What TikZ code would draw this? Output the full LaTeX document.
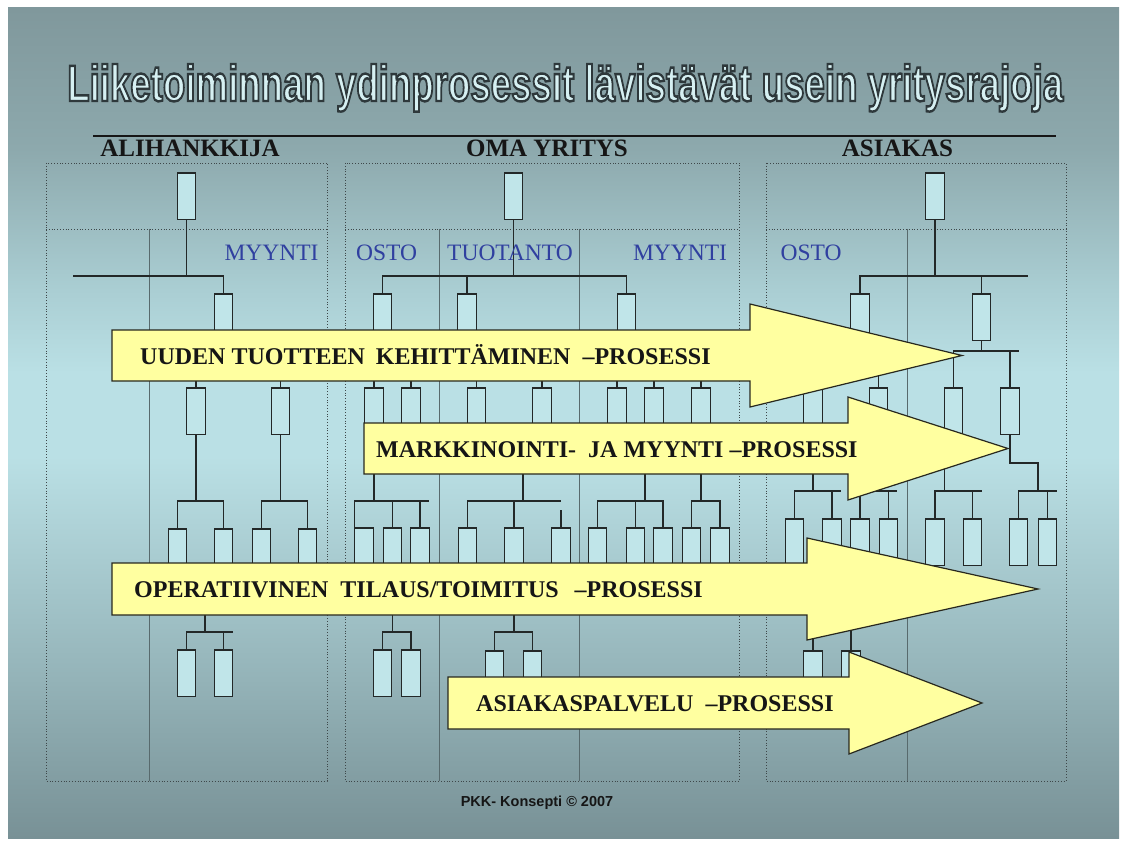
\documentclass[tikz,border=0pt]{standalone}
\usepackage{fontspec}
\usepackage{graphicx}
\setmainfont{Liberation Serif}
\newfontfamily\headsans{Liberation Sans}
\usetikzlibrary{calc}

\definecolor{bgtop}{RGB}{128,152,156}
\definecolor{bgupper}{RGB}{141,169,173}
\definecolor{bglight}{RGB}{170,206,211}
\definecolor{bgmid}{RGB}{186,224,229}
\definecolor{bglower}{RGB}{152,184,189}
\definecolor{bgbot}{RGB}{120,145,150}
\definecolor{boxfill}{RGB}{192,229,233}
\definecolor{boxedge}{RGB}{35,40,40}
\definecolor{framecol}{RGB}{62,72,74}
\definecolor{dividecol}{RGB}{88,106,109}
\definecolor{arrowfill}{RGB}{255,255,160}
\definecolor{arrowedge}{RGB}{40,40,30}
\definecolor{unitblue}{RGB}{48,64,160}
\definecolor{titlefill}{RGB}{214,240,242}
\definecolor{ink}{RGB}{22,22,22}

% slide background: grey-teal at top and bottom, light cyan in the middle
% (TikZ maps the 25bp--75bp band of a shading onto the filled area)
\pgfdeclareverticalshading{slidebg}{100bp}{%
  color(0bp)=(bgbot); color(25bp)=(bgbot); color(36bp)=(bglower);
  color(48bp)=(bgmid); color(53bp)=(bgmid); color(58bp)=(bglight);
  color(66.5bp)=(bgupper); color(75bp)=(bgtop); color(100bp)=(bgtop)}

% outlined title: light fill, dark stroke (text render mode 2)
\newcommand\titlestroke{\special{pdf:literal direct 2 Tr 2.4 w 0.18 0.22 0.23 RG}}
\newcommand\titleplain{\special{pdf:literal direct 0 Tr}}
\newcommand\ttltext{\resizebox{996pt}{37pt}{\headsans\bfseries\fontsize{50}{50}\selectfont
  Liiketoiminnan ydinprosessit lävistävät usein yritysrajoja}}

\begin{document}
\begin{tikzpicture}[x=1pt,y=-1pt,
  obox/.style={draw=boxedge, fill=boxfill, line width=1.2pt, minimum width=18.5pt,
               minimum height=46.5pt, inner sep=0pt, outer sep=0pt, anchor=north},
  link/.style={draw=boxedge, line width=1.3pt},
  frame/.style={draw=framecol, line width=0.8pt, dotted},
  divider/.style={draw=dividecol, line width=0.7pt},
  procarrow/.style={fill=arrowfill, draw=arrowedge, line width=1.2pt, line join=miter},
  proclabel/.style={anchor=base west, inner sep=0pt, text=ink,
                    font=\fontsize{24}{24}\selectfont\bfseries},
  partylabel/.style={anchor=base, inner sep=0pt, text=ink,
                     font=\fontsize{25}{25}\selectfont\bfseries},
  unitlabel/.style={anchor=base, inner sep=0pt, text=unitblue,
                    font=\fontsize{23.5}{23.5}\selectfont},
  titletext/.style={anchor=base west, inner sep=0pt}
]
\useasboundingbox (0,0) rectangle (1127,845);
\fill[white] (0,0) rectangle (1127,845);
\shade[shading=slidebg] (8,8) rectangle (1119,838);

% ---------- title ----------
\node[titletext, text=titlefill] (title) at (67,101) {\titlestroke\ttltext\titleplain};

% ---------- header rule and party names ----------
\coordinate (ruleL) at (93,136);
\coordinate (ruleR) at (1056,136);
\draw[line width=1.3pt, draw=ink] (ruleL) -- (ruleR);
\node[partylabel] (sub)  at (190,157) {ALIHANKKIJA};
\node[partylabel] (own)  at (547,157) {OMA YRITYS};
\node[partylabel] (cust) at (897.5,157) {ASIAKAS};

% ---------- company frames ----------
\draw[frame] (46,163) rectangle (327,781);
\draw[frame] (46,229) -- (327,229);
\draw[divider] (149,229) -- (149,781);

\draw[frame] (345,163) rectangle (739,781);
\draw[frame] (345,229) -- (739,229);
\draw[divider] (439,229) -- (439,781);
\draw[divider] (579,229) -- (579,781);

\draw[frame] (766,163) rectangle (1066,781);
\draw[frame] (766,229) -- (1066,229);
\draw[divider] (907,229) -- (907,781);

% ---------- row levels ----------
\coordinate (y276) at (0,276);
\coordinate (y351) at (0,351);
\coordinate (y360) at (0,360);
\coordinate (y491) at (0,491);
\coordinate (y501) at (0,501);
\coordinate (y628) at (0,628);
\coordinate (y632) at (0,632);

% ---------- ALIHANKKIJA organisation ----------
\node[obox] (a0) at (186.5,173) {};
\node[obox] (a1) at (223.5,294) {};
\node[obox] (a2) at (196,388) {};
\node[obox] (a3) at (280.5,388) {};
\node[obox] (a4) at (177.5,529) {};
\node[obox] (a5) at (223.5,529) {};
\node[obox] (a6) at (261.5,529) {};
\node[obox] (a7) at (307.5,529) {};
\node[obox] (a8) at (186.5,650) {};
\node[obox] (a9) at (223.5,650) {};

\coordinate (aL) at (73,276);
\draw[link] (a0.south) -- (a0.south |- aL);
\draw[link] (aL) -| (a1.north);
\draw[link] (a1.south) -- (a1.south |- y360);
\draw[link] (a2.north) |- (a3.north |- y360) -- (a3.north);
\draw[link] (a2.south) -- (a2.south |- y501);
\draw[link] (a4.north) |- (a5.north |- y501) -- (a5.north);
\draw[link] (a3.south) -- (a3.south |- y501);
\draw[link] (a6.north) |- (a7.north |- y501) -- (a7.north);
\coordinate (aJ) at (205,600);
\coordinate (aR) at (233,632);
\draw[link] (aJ) -- (aJ |- aR);
\draw[link] (a8.north) |- (aR);
\draw[link] (a9.north) -- (a9.north |- aR);

% ---------- OMA YRITYS organisation ----------
\node[obox] (o0) at (513.5,173) {};
\node[obox] (o1) at (382.5,294) {};
\node[obox] (o2) at (467,294) {};
\node[obox] (o3) at (626.5,294) {};
\node[obox] (o4) at (374,388) {};
\node[obox] (o5) at (411,388) {};
\node[obox] (o6) at (476.5,388) {};
\node[obox] (o7) at (542,388) {};
\node[obox] (o8) at (617,388) {};
\node[obox] (o9) at (654,388) {};
\node[obox] (o10) at (701,388) {};
\node[obox] (o11) at (364,528) {};
\node[obox] (o12) at (392.5,528) {};
\node[obox] (o13) at (420,528) {};
\node[obox] (o14) at (467.5,528) {};
\node[obox] (o15) at (514,528) {};
\node[obox] (o16) at (561,528) {};
\node[obox] (o17) at (597.5,528) {};
\node[obox] (o18) at (635.5,528) {};
\node[obox] (o19) at (663,528) {};
\node[obox] (o20) at (691.5,528) {};
\node[obox] (o21) at (720,528) {};
\node[obox] (o22) at (382.5,650) {};
\node[obox] (o23) at (411,650) {};
\node[obox] (o24) at (494.5,651) {};
\node[obox] (o25) at (532.5,651) {};

\draw[link] (o0.south) -- (o0.south |- y276);
\draw[link] (o1.north) |- (o3.north |- y276) -- (o3.north);
\draw[link] (o2.north) -- (o2.north |- y276);
\draw[link] (o1.south) -- (o1.south |- y360);
\draw[link] (o4.north) |- (o5.north |- y360) -- (o5.north);
\draw[link] (o2.south) -- (o2.south |- y360);
\draw[link] (o6.north) |- (o7.north |- y360) -- (o7.north);
\draw[link] (o3.south) -- (o3.south |- y360);
\draw[link] (o8.north) |- (o10.north |- y360) -- (o10.north);
\draw[link] (o9.north) -- (o9.north |- y360);

\coordinate (oR1) at (429,501);
\draw[link] (o4.south) -- (o4.south |- oR1);
\draw[link] (o11.north west) |- (oR1);
\draw[link] (o12.north) -- (o12.north |- oR1);
\draw[link] (o13.north) -- (o13.north |- oR1);

\coordinate (oT1) at (523,450);
\coordinate (oT2) at (561,501);
\coordinate (oT3) at (561,510);
\draw[link] (oT1) -- (oT1 |- oT2);
\draw[link] (o14.north) |- (oT2);
\draw[link] (o15.north) -- (o15.north |- oT2);
\draw[link] (oT3) -- (o16.north);

\coordinate (oM1) at (645,450);
\draw[link] (oM1) -- (oM1 |- y501);
\draw[link] (o17.north) |- (o19.north |- y501) -- (o19.north);
\draw[link] (o18.north) -- (o18.north |- y501);
\draw[link] (o10.south) -- (o10.south |- y501);
\draw[link] (o20.north) |- (o21.north |- y501) -- (o21.north);

\draw[link] (o12.south) -- (o12.south |- y632);
\draw[link] (o22.north) |- (o23.north |- y632) -- (o23.north);
\draw[link] (o15.south) -- (o15.south |- y632);
\draw[link] (o24.north) |- (o25.north |- y632) -- (o25.north);

% ---------- ASIAKAS organisation ----------
\node[obox] (s0) at (935,173) {};
\node[obox] (s1) at (860,294) {};
\node[obox] (s2) at (981.5,294) {};
\node[obox] (s3) at (953.5,388) {};
\node[obox] (s4) at (1010,388) {};
\node[obox] (s5) at (813,388) {};
\node[obox] (s6) at (878.5,388) {};
\node[obox] (s7) at (935,519) {};
\node[obox] (s8) at (972.5,519) {};
\node[obox] (s9) at (1018.5,519) {};
\node[obox] (s10) at (1047.5,519) {};
\node[obox] (s11) at (794.5,519) {};
\node[obox] (s12) at (832,519) {};
\node[obox] (s13) at (860,519) {};
\node[obox] (s14) at (888.5,519) {};
\node[obox] (s15) at (813,651) {};
\node[obox] (s16) at (851,651) {};

\coordinate (sR0) at (1028,276);
\draw[link] (s0.south) -- (s0.south |- sR0);
\draw[link] (s1.north) |- (sR0);
\draw[link] (s2.north) -- (s2.north |- sR0);

\coordinate (sR1) at (1019,351);
\draw[link] (s2.south) -- (s2.south |- sR1);
\draw[link] (s3.north) |- (sR1);
\draw[link] (s4.north) -- (s4.north |- sR1);

\draw[link] (s1.south) -- (s1.south |- y351);
\draw[link] (s5.north) |- (s6.north |- y351) -- (s6.north);

\coordinate (sK) at (1038,463);
\coordinate (sR2) at (1057,491);
\draw[link] (s4.south) |- (sK) -- (sK |- sR2);
\draw[link] (s9.north) |- (sR2);
\draw[link] (s10.north) -- (s10.north |- sR2);

\coordinate (sR3) at (982,491);
\draw[link] (s3.south west) -- (s3.south west |- sR3);
\draw[link] (s7.north) |- (sR3);
\draw[link] (s8.north) -- (s8.north |- sR3);

\coordinate (sR4) at (841,491);
\draw[link] (s5.south) -- (s5.south |- sR4);
\draw[link] (s11.north) |- (sR4);
\draw[link] (s12.north) -- (s12.north |- sR4);

\coordinate (sR5) at (897,491);
\draw[link] (s6.south) -- (s6.south |- sR5);
\draw[link] (s13.north) |- (sR5);
\draw[link] (s14.north) -- (s14.north |- sR5);

\draw[link] (s15.north) |- (s16.north |- y628) -- (s16.north);

% ---------- unit names ----------
\node[unitlabel] (u1) at (271.5,260) {MYYNTI};
\node[unitlabel] (u2) at (386.5,260) {OSTO};
\node[unitlabel] (u3) at (510,260) {TUOTANTO};
\node[unitlabel] (u4) at (680,260) {MYYNTI};
\node[unitlabel] (u5) at (811,260) {OSTO};

% ---------- process arrows ----------
\draw[procarrow] (112,330) -- (750,330) -- (750,304) -- (962,355.5) -- (750,407)
   -- (750,381) -- (112,381) -- cycle;
\node[proclabel] (p1) at (140,364) {UUDEN TUOTTEEN\hspace{5pt} KEHITTÄMINEN\hspace{6pt} –PROSESSI};

\draw[procarrow] (364,423) -- (848,423) -- (848,397) -- (1008,448.5) -- (848,500)
   -- (848,474) -- (364,474) -- cycle;
\node[proclabel] (p2) at (376,457) {MARKKINOINTI-\hspace{6pt} JA MYYNTI –PROSESSI};

\draw[procarrow] (112,563) -- (807,563) -- (807,538) -- (1038,589) -- (807,640)
   -- (807,615) -- (112,615) -- cycle;
\node[proclabel] (p3) at (134,597) {OPERATIIVINEN\hspace{6pt} TILAUS/TOIMITUS\hspace{10pt} –PROSESSI};

\draw[procarrow] (448,677) -- (849,677) -- (849,652) -- (982,703) -- (849,754)
   -- (849,729) -- (448,729) -- cycle;
\node[proclabel] (p4) at (476,711) {ASIAKASPALVELU\hspace{6pt} –PROSESSI};

% ---------- footer ----------
\node[anchor=base, inner sep=0pt, text=ink, font=\headsans\bfseries\fontsize{14.5}{14.5}\selectfont]
  (foot) at (537,806) {PKK- Konsepti © 2007};
\end{tikzpicture}
\end{document}
